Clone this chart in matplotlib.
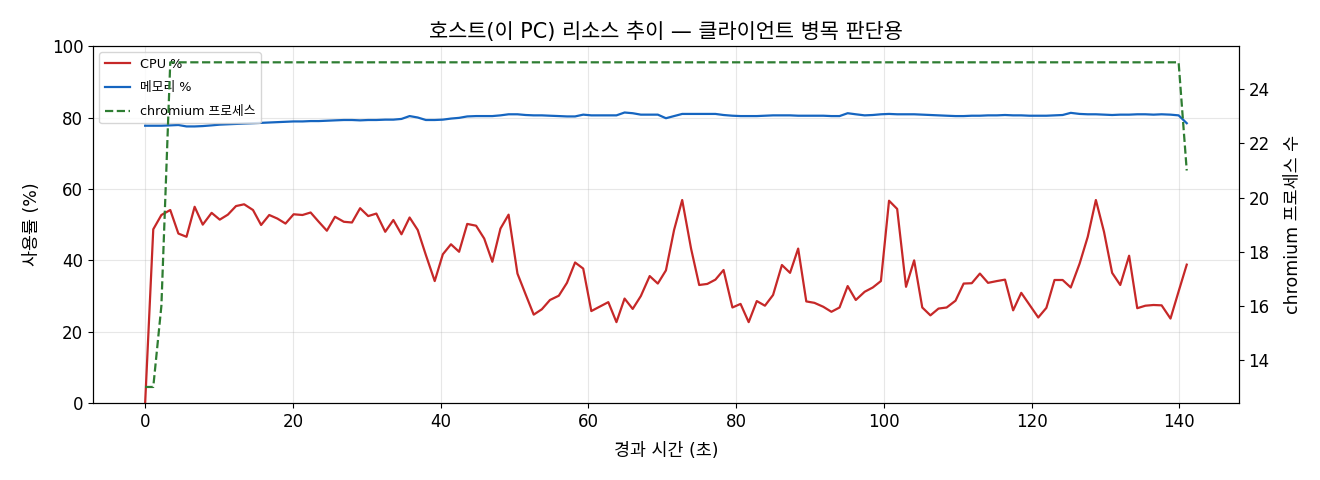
import matplotlib
matplotlib.use("Agg")
import matplotlib.pyplot as plt

plt.rcParams['font.family'] = ['DejaVu Sans', 'Noto Sans CJK KR']
plt.rcParams['axes.unicode_minus'] = False

RED = '#c62828'
BLUE = '#1565c0'
GREEN = '#2e7d32'

# elapsed seconds of each sample
elapsed = [
    0.0, 1.1, 2.2, 3.4, 4.5, 5.6, 6.7, 7.8, 9.0, 10.1,
    11.2, 12.3, 13.4, 14.6, 15.7, 16.8, 17.9, 19.0, 20.1, 21.3,
    22.4, 23.5, 24.6, 25.7, 26.9, 28.0, 29.1, 30.2, 31.3, 32.5,
    33.6, 34.7, 35.8, 36.9, 38.0, 39.2, 40.3, 41.4, 42.5, 43.6,
    44.8, 45.9, 47.0, 48.1, 49.2, 50.4, 51.5, 52.6, 53.7, 54.8,
    56.0, 57.1, 58.2, 59.3, 60.4, 61.5, 62.7, 63.8, 64.9, 66.0,
    67.1, 68.3, 69.4, 70.5, 71.6, 72.7, 73.9, 75.0, 76.1, 77.2,
    78.3, 79.5, 80.6, 81.7, 82.8, 83.9, 85.0, 86.2, 87.3, 88.4,
    89.5, 90.6, 91.8, 92.9, 94.0, 95.1, 96.2, 97.4, 98.5, 99.6,
    100.7, 101.8, 103.0, 104.1, 105.2, 106.3, 107.4, 108.5, 109.7, 110.8,
    111.9, 113.0, 114.1, 115.3, 116.4, 117.5, 118.6, 119.7, 120.9, 122.0,
    123.1, 124.2, 125.3, 126.5, 127.6, 128.7, 129.8, 130.9, 132.0, 133.2,
    134.3, 135.4, 136.5, 137.6, 138.8, 139.9, 141.0,
]

cpu = [
    0.0, 48.7, 52.7, 54.1, 47.5, 46.6, 55.0, 50.0, 53.3, 51.4,
    52.8, 55.2, 55.7, 54.1, 49.9, 52.7, 51.7, 50.3, 52.9, 52.7,
    53.4, 50.8, 48.3, 52.2, 50.8, 50.6, 54.6, 52.4, 53.1, 48.0,
    51.3, 47.3, 52.0, 48.5, 41.5, 34.2, 41.7, 44.5, 42.4, 50.2,
    49.7, 46.1, 39.6, 48.9, 52.8, 36.3, 30.5, 24.8, 26.3, 28.9,
    30.1, 33.7, 39.4, 37.7, 25.8, 27.0, 28.3, 22.7, 29.3, 26.4,
    30.0, 35.6, 33.5, 37.2, 48.5, 56.9, 43.3, 33.1, 33.4, 34.6,
    37.3, 26.8, 27.8, 22.7, 28.6, 27.3, 30.3, 38.7, 36.5, 43.3,
    28.5, 28.1, 27.0, 25.6, 26.8, 32.8, 28.9, 31.2, 32.4, 34.2,
    56.7, 54.4, 32.6, 40.0, 26.8, 24.6, 26.5, 26.8, 28.7, 33.5,
    33.6, 36.3, 33.7, 34.2, 34.6, 26.0, 30.9, 27.6, 24.0, 26.7,
    34.5, 34.5, 32.4, 39.1, 46.6, 56.9, 48.0, 36.5, 33.1, 41.3,
    26.6, 27.3, 27.5, 27.4, 23.7, 31.3, 38.8,
]

memory = [
    77.7, 77.7, 77.7, 77.8, 77.9, 77.5, 77.5, 77.6, 77.8, 78.0,
    78.1, 78.2, 78.3, 78.4, 78.5, 78.6, 78.7, 78.8, 78.9, 78.9,
    79.0, 79.0, 79.1, 79.2, 79.3, 79.3, 79.2, 79.3, 79.3, 79.4,
    79.4, 79.6, 80.4, 80.0, 79.3, 79.3, 79.4, 79.7, 79.9, 80.3,
    80.4, 80.4, 80.4, 80.6, 80.9, 80.9, 80.7, 80.6, 80.6, 80.5,
    80.4, 80.3, 80.3, 80.8, 80.6, 80.6, 80.6, 80.6, 81.4, 81.2,
    80.8, 80.8, 80.8, 79.8, 80.4, 81.0, 81.0, 81.0, 81.0, 81.0,
    80.7, 80.5, 80.4, 80.4, 80.4, 80.5, 80.6, 80.6, 80.6, 80.5,
    80.5, 80.5, 80.5, 80.4, 80.4, 81.2, 80.9, 80.6, 80.7, 80.9,
    81.0, 80.9, 80.9, 80.9, 80.8, 80.7, 80.6, 80.5, 80.4, 80.4,
    80.5, 80.5, 80.6, 80.6, 80.7, 80.6, 80.6, 80.5, 80.5, 80.5,
    80.6, 80.7, 81.3, 81.0, 80.9, 80.9, 80.8, 80.7, 80.8, 80.8,
    80.9, 80.9, 80.8, 80.9, 80.8, 80.6, 78.4,
]

chromium = [13, 13, 16] + [25] * 123 + [21]

fig = plt.figure(figsize=(13.2, 4.8), dpi=100)
ax = fig.add_axes([0.0705, 0.160, 0.868, 0.744])

l1, = ax.plot(elapsed, cpu, color=RED, lw=1.6, label='CPU %')
l2, = ax.plot(elapsed, memory, color=BLUE, lw=1.6, label='메모리 %')
ax.set_ylim(0, 100)
ax.set_xlabel('경과 시간 (초)', fontsize=12.5, labelpad=8)
ax.set_ylabel('사용률 (%)', fontsize=12.5, labelpad=8)
ax.set_title('호스트(이 PC) 리소스 추이 — 클라이언트 병목 판단용', fontsize=15)
ax.grid(True, alpha=0.3)
ax.tick_params(labelsize=12)

ax2 = ax.twinx()
l3, = ax2.plot(elapsed, chromium, color=GREEN, lw=1.6, ls='--', label='chromium 프로세스')
ax2.set_ylabel('chromium 프로세스 수', fontsize=12.5, labelpad=10)
ax2.tick_params(labelsize=12)

ax.legend(handles=[l1, l2, l3], loc='upper left', fontsize=9.2, labelspacing=0.85)

fig.savefig('out.png', dpi=100)
